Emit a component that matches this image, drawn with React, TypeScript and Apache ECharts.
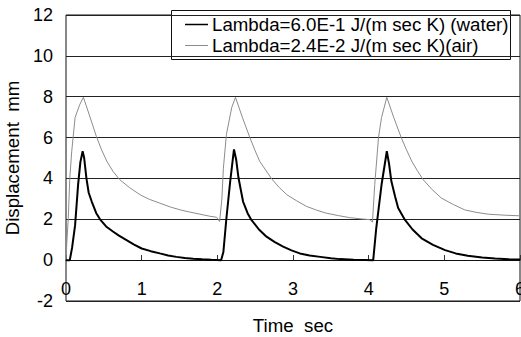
import React, { useEffect, useRef } from "react";
import * as echarts from "echarts";

const waterTime = [0, 0.05, 0.08, 0.12, 0.16, 0.19, 0.22, 0.24, 0.27, 0.3, 0.34, 0.4, 0.45, 0.53, 0.62, 0.7, 0.8, 0.9, 1.0, 1.12, 1.24, 1.35, 1.46, 1.57, 1.68, 1.8, 1.92, 2.05, 2.08, 2.12, 2.17, 2.22, 2.25, 2.28, 2.34, 2.4, 2.45, 2.55, 2.65, 2.76, 2.87, 2.98, 3.09, 3.22, 3.36, 3.5, 3.62, 3.8, 3.95, 4.06, 4.1, 4.17, 4.24, 4.27, 4.3, 4.35, 4.39, 4.48, 4.58, 4.7, 4.85, 5.01, 5.15, 5.31, 5.5, 5.67, 5.85, 6.0];
const waterValue = [0, 0, 0.6, 1.7, 3.7, 4.8, 5.33, 5.0, 4.0, 3.3, 2.87, 2.3, 2.0, 1.65, 1.4, 1.2, 0.98, 0.76, 0.57, 0.44, 0.33, 0.23, 0.16, 0.11, 0.07, 0.04, 0.02, 0, 0.4, 2.05, 3.86, 5.42, 4.9, 4.02, 2.87, 2.3, 1.97, 1.5, 1.15, 0.88, 0.66, 0.48, 0.33, 0.23, 0.16, 0.09, 0.05, 0.02, 0.01, 0, 1.56, 3.69, 5.33, 4.7, 3.86, 3.1, 2.55, 1.97, 1.5, 1.07, 0.75, 0.49, 0.33, 0.21, 0.13, 0.08, 0.04, 0.03];

const airTime = [0, 0.01, 0.03, 0.05, 0.075, 0.12, 0.18, 0.23, 0.3, 0.4, 0.47, 0.54, 0.62, 0.71, 0.84, 0.98, 1.1, 1.24, 1.38, 1.51, 1.64, 1.77, 1.9, 1.99, 2.03, 2.06, 2.08, 2.12, 2.19, 2.24, 2.33, 2.43, 2.5, 2.56, 2.64, 2.72, 2.82, 2.92, 3.05, 3.18, 3.31, 3.44, 3.6, 3.75, 3.9, 4.02, 4.05, 4.08, 4.13, 4.17, 4.24, 4.33, 4.43, 4.5, 4.57, 4.64, 4.72, 4.84, 4.96, 5.12, 5.27, 5.42, 5.58, 5.8, 6.0];
const airValue = [0, 0.8, 2.05, 4.0, 5.3, 6.98, 7.6, 7.97, 7.2, 6.07, 5.4, 4.84, 4.35, 3.94, 3.55, 3.2, 2.98, 2.79, 2.6, 2.46, 2.35, 2.25, 2.15, 2.1, 1.89, 3.0, 4.5, 6.15, 7.47, 7.97, 7.0, 6.0, 5.35, 4.84, 4.4, 3.97, 3.55, 3.2, 2.9, 2.63, 2.45, 2.3, 2.18, 2.08, 2.02, 1.98, 1.86, 3.69, 6.0, 6.98, 7.97, 7.0, 6.0, 5.4, 4.84, 4.4, 3.94, 3.45, 3.04, 2.72, 2.46, 2.34, 2.25, 2.2, 2.17];

const seriesNames = [
  "Lambda=6.0E-1 J/(m sec K) (water)",
  "Lambda=2.4E-2 J/(m sec K)(air)",
];
const xTitle = "Time  sec";
const yTitle = "Displacement  mm";

const FONT = "'Liberation Sans', Arial, sans-serif";
const BLACK = "#000";
const GRAY = "#8c8c8c";

export default function App() {
  const ref = useRef<HTMLDivElement>(null);
  useEffect(() => {
    if (!ref.current) return;
    const chart = echarts.init(ref.current, undefined, { renderer: "svg" });
    chart.setOption({
      animation: false,
      backgroundColor: "#fff",
      textStyle: { fontFamily: FONT },
      grid: {
        left: 66,
        right: 1,
        top: 15,
        bottom: 36,
        containLabel: false,
        outerBoundsMode: "none",
        show: true,
        borderColor: "#111",
        borderWidth: 1,
      },
      legend: { show: false },
      graphic: [
        {
          type: "group",
          z: 100,
          children: [
            {
              type: "rect",
              shape: { x: 171.5, y: 10.5, width: 339, height: 49 },
              style: { fill: "#fff", stroke: "#111", lineWidth: 1 },
            },
            {
              type: "line",
              shape: { x1: 185, y1: 24.5, x2: 208, y2: 24.5 },
              style: { stroke: BLACK, lineWidth: 1.5 },
            },
            {
              type: "text",
              x: 212,
              y: 24.5,
              style: {
                text: seriesNames[0],
                fill: "#000",
                fontSize: 18.7,
                fontFamily: FONT,
                verticalAlign: "middle",
                align: "left",
              },
            },
            {
              type: "line",
              shape: { x1: 185, y1: 45.5, x2: 208, y2: 45.5 },
              style: { stroke: GRAY, lineWidth: 1 },
            },
            {
              type: "text",
              x: 212,
              y: 45.5,
              style: {
                text: seriesNames[1],
                fill: "#000",
                fontSize: 18.7,
                fontFamily: FONT,
                verticalAlign: "middle",
                align: "left",
              },
            },
          ],
        },
      ],
      xAxis: {
        type: "value",
        min: 0,
        max: 6,
        interval: 1,
        position: "bottom",
        offset: -41,
        name: xTitle,
        nameLocation: "middle",
        nameGap: 56,
        nameTextStyle: { fontSize: 18.7, color: "#000", fontFamily: FONT },
        axisLine: { onZero: false, lineStyle: { color: "#111", width: 1 } },
        axisTick: { inside: true, length: 5, lineStyle: { color: "#333" } },
        axisLabel: { fontSize: 18, color: "#000", margin: 20, fontFamily: FONT },
        splitLine: { show: false },
      },
      yAxis: {
        type: "value",
        min: -2,
        max: 12,
        interval: 2,
        name: yTitle,
        nameLocation: "middle",
        nameGap: 36,
        nameTextStyle: { fontSize: 18.7, color: "#000", fontFamily: FONT },
        axisLine: { show: false },
        axisTick: { show: false },
        axisLabel: { fontSize: 18, color: "#000", margin: 13, fontFamily: FONT },
        splitLine: { show: true, lineStyle: { color: "#222", width: 1 } },
      },
      series: [
        {
          name: seriesNames[0],
          type: "line",
          symbol: "none",
          color: BLACK,
          lineStyle: { color: BLACK, width: 2 },
          data: waterTime.map((t, i) => [t, waterValue[i]]),
          z: 3,
        },
        {
          name: seriesNames[1],
          type: "line",
          symbol: "none",
          color: GRAY,
          lineStyle: { color: GRAY, width: 1 },
          data: airTime.map((t, i) => [t, airValue[i]]),
          z: 2,
        },
      ],
    });
    return () => chart.dispose();
  }, []);
  return (
    <div
      ref={ref}
      style={{ position: "fixed", left: 0, top: 0, width: 521, height: 337, background: "#fff" }}
    />
  );
}
